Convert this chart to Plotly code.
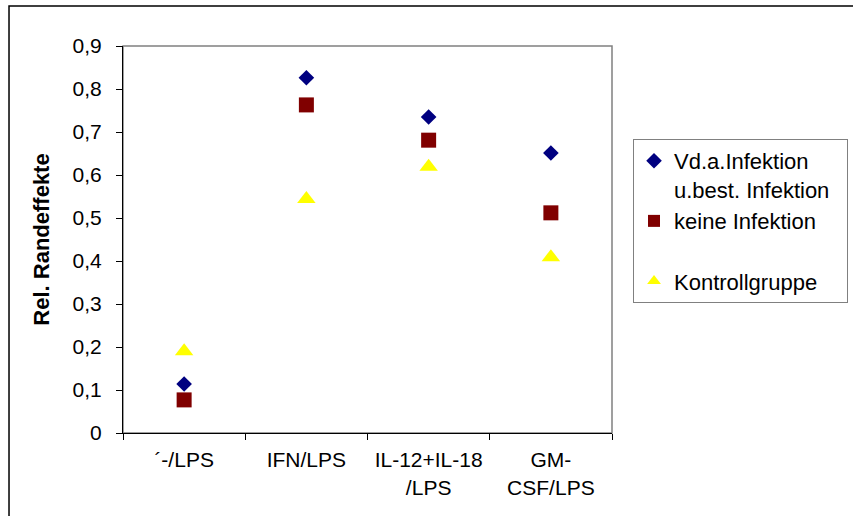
import plotly.graph_objects as go

categories = ["´-/LPS", "IFN/LPS", "IL-12+IL-18<br>/LPS", "GM-<br>CSF/LPS"]
series_names = ["Vd.a.Infektion<br>u.best. Infektion\u00a0\u00a0", "keine Infektion<br> ", "Kontrollgruppe"]
vd_infektion = [0.114, 0.826, 0.735, 0.651]
keine_infektion = [0.077, 0.763, 0.681, 0.512]
kontrollgruppe = [0.190, 0.544, 0.619, 0.409]
y_ticks = [0, 0.1, 0.2, 0.3, 0.4, 0.5, 0.6, 0.7, 0.8, 0.9]

FONT = "Liberation Sans, Arial, sans-serif"

fig = go.Figure()
fig.add_trace(go.Scatter(x=categories, y=vd_infektion, mode="markers", name=series_names[0],
                         marker=dict(symbol="diamond", size=12, color="#000080")))
fig.add_trace(go.Scatter(x=categories, y=keine_infektion, mode="markers", name=series_names[1],
                         marker=dict(symbol="square", size=15, color="#800000")))
fig.add_trace(go.Scatter(x=categories, y=kontrollgruppe, mode="markers", name=series_names[2],
                         marker=dict(symbol="triangle-up", size=16, color="#FFFF00")))

fig.update_layout(
    width=853, height=516,
    margin=dict(l=123, r=241, t=46, b=83, autoexpand=False),
    paper_bgcolor="white", plot_bgcolor="white",
    separators=",.",
    font=dict(family=FONT, size=21, color="black"),
    showlegend=True,
    legend=dict(x=1.043, y=0.76, xanchor="left", yanchor="top",
                bordercolor="#808080", borderwidth=1, bgcolor="white",
                font=dict(family=FONT, size=22, color="black"),
                valign="top", itemsizing="constant", tracegroupgap=0,
                itemwidth=30),
    xaxis=dict(type="category", range=[-0.5, 3.5], tickson="boundaries",
               ticks="outside", ticklen=6, tickcolor="black",
               showline=True, linecolor="black", linewidth=1,
               showgrid=False, zeroline=False, ticklabelstandoff=8,
               tickfont=dict(family=FONT, size=21)),
    yaxis=dict(range=[0, 0.9], tickvals=y_ticks, ticks="outside", ticklen=6, tickcolor="black",
               showline=True, linecolor="black", linewidth=1,
               showgrid=False, zeroline=False, ticklabelstandoff=10,
               tickfont=dict(family=FONT, size=21),
               title=dict(text="<b>Rel. Randeffekte</b>", font=dict(family=FONT, size=22), standoff=16)),
    shapes=[
        dict(type="rect", xref="paper", yref="paper", x0=0, y0=0, x1=1, y1=1,
             line=dict(color="#808080", width=1.5), layer="below"),
        dict(type="rect", xref="paper", yref="paper", x0=-0.2331, y0=-0.23, x1=1.5, y1=1.1034,
             line=dict(color="black", width=1.5), layer="below"),
    ],
)

fig.write_html("out.html")
